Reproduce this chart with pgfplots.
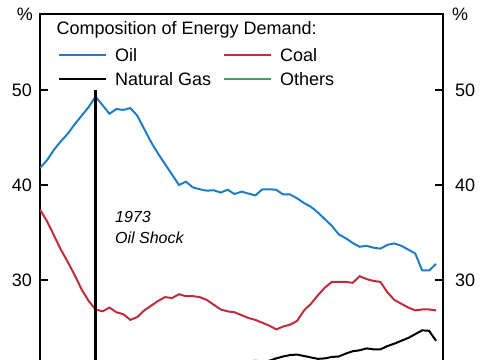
\documentclass[border=0pt]{standalone}
\usepackage{fontspec}
\setmainfont{Liberation Sans}
\usepackage{pgfplots}
\pgfplotsset{compat=1.18}
\usepackage{pgfplotstable}

\definecolor{oilblue}{RGB}{32,125,196}
\definecolor{coalred}{RGB}{190,45,60}
\definecolor{othgreen}{RGB}{70,160,85}

\pgfplotstableread{
year val
1965 41.8
1966 42.6
1967 43.7
1968 44.6
1969 45.4
1970 46.4
1971 47.3
1972 48.2
1973 49.3
1974 48.4
1975 47.5
1976 48.0
1977 47.9
1978 48.1
1979 47.3
1980 45.9
1981 44.5
1982 43.3
1983 42.2
1984 41.1
1985 40.0
1986 40.35
1987 39.75
1988 39.55
1989 39.4
1990 39.45
1991 39.2
1992 39.5
1993 39.05
1994 39.3
1995 39.1
1996 38.9
1997 39.55
1998 39.55
1999 39.5
2000 39.0
2001 39.0
2002 38.6
2003 38.1
2004 37.7
2005 37.1
2006 36.4
2007 35.7
2008 34.8
2009 34.4
2010 33.9
2011 33.5
2012 33.6
2013 33.4
2014 33.3
2015 33.7
2016 33.85
2017 33.6
2018 33.2
2019 32.8
2020 31.0
2021 31.0
2022 31.7
}\oildata

\pgfplotstableread{
year val
1965 37.4
1966 36.2
1967 34.7
1968 33.2
1969 31.9
1970 30.5
1971 29.0
1972 27.8
1973 26.9
1974 26.7
1975 27.1
1976 26.6
1977 26.4
1978 25.8
1979 26.1
1980 26.8
1981 27.3
1982 27.8
1983 28.2
1984 28.1
1985 28.5
1986 28.3
1987 28.3
1988 28.2
1989 27.9
1990 27.4
1991 26.9
1992 26.7
1993 26.6
1994 26.3
1995 26.0
1996 25.8
1997 25.5
1998 25.2
1999 24.8
2000 25.1
2001 25.3
2002 25.7
2003 26.8
2004 27.5
2005 28.4
2006 29.2
2007 29.8
2008 29.8
2009 29.8
2010 29.7
2011 30.4
2012 30.1
2013 29.9
2014 29.8
2015 28.7
2016 27.9
2017 27.5
2018 27.1
2019 26.8
2020 26.9
2021 26.9
2022 26.8
}\coaldata

\pgfplotstableread{
year val
1965 15.6
1966 15.9
1967 16.3
1968 16.6
1969 17.0
1970 17.4
1971 17.7
1972 17.9
1973 18.2
1974 18.4
1975 18.6
1976 18.7
1977 18.8
1978 19.0
1979 19.3
1980 19.5
1981 19.7
1982 19.8
1983 19.9
1984 20.3
1985 20.4
1986 20.4
1987 20.7
1988 20.8
1989 21.0
1990 21.2
1991 21.3
1992 21.2
1993 21.3
1994 21.2
1995 21.4
1996 21.5
1997 21.4
1998 21.5
1999 21.75
2000 21.95
2001 22.1
2002 22.15
2003 22.0
2004 21.85
2005 21.7
2006 21.75
2007 21.9
2008 21.95
2009 22.25
2010 22.5
2011 22.6
2012 22.8
2013 22.7
2014 22.7
2015 23.05
2016 23.3
2017 23.6
2018 23.9
2019 24.3
2020 24.7
2021 24.65
2022 23.6
}\gasdata

\pgfplotstableread{
year val
1965 5.2
1970 5.7
1975 6.8
1980 7.8
1985 11.1
1990 11.9
1995 13.4
2000 13.9
2005 13.8
2010 13.9
2015 14.2
2020 17.4
2022 17.9
}\othdata

\begin{document}
\begin{tikzpicture}
\begin{axis}[
  name=main,
  scale only axis,
  width=403bp, height=347.7bp,
  xmin=1965, xmax=2023,
  ymin=21.4, ymax=58,
  xtick=\empty,
  ytick={30,40,50},
  ytick pos=both,
  yticklabel pos=left,
  tick align=inside,
  major tick length=8bp,
  tick style={line width=1.1bp, black},
  axis line style={line width=1.2bp},
  /pgf/number format/assume math mode=true,
  yticklabel style={inner sep=0pt, xshift=-8bp, font=\fontsize{18bp}{20bp}\selectfont},
  legend columns=2,
  legend cell align=left,
  legend image code/.code={\draw[#1] (0bp,0bp) -- (47bp,0bp);},
  legend style={draw=none, fill=none, inner sep=0pt, outer sep=0pt,
    at={(rel axis cs:0.0447,0.8999)}, anchor=north west,
    row sep=10.5bp,
    font=\fontsize{18bp}{20bp}\selectfont,
    nodes={inner sep=0pt, text height=13bp, text depth=0pt},
    /tikz/every odd column/.append style={column sep=8bp},
    /tikz/every even column/.append style={column sep=12bp}},
]
\addplot[oilblue, line width=2bp] table[x=year,y=val] {\oildata};
\addlegendentry{Oil}
\addplot[coalred, line width=2bp] table[x=year,y=val] {\coaldata};
\addlegendentry{Coal}
\addplot[black, line width=2bp] table[x=year,y=val] {\gasdata};
\addlegendentry{Natural Gas}
\addplot[othgreen, line width=2bp] table[x=year,y=val] {\othdata};
\addlegendentry{Others}
\addplot[black, line width=2.2bp, forget plot] coordinates {(1973,50) (1973,20)};

\node[anchor=base west, font=\fontsize{18bp}{20bp}\selectfont] at (rel axis cs:0.0323,0.9396) {Composition of Energy Demand:};
\node[anchor=base west, xshift=16bp, font=\fontsize{16bp}{18bp}\selectfont\itshape] at (axis cs:1973,36.0) {1973};
\node[anchor=base west, xshift=16bp, font=\fontsize{16bp}{18bp}\selectfont\itshape] at (axis cs:1973,33.86) {Oil Shock};
\end{axis}
\begin{axis}[
  scale only axis,
  width=403bp, height=347.7bp,
  xmin=1965, xmax=2023,
  ymin=21.4, ymax=58,
  axis x line=none,
  axis y line*=right,
  axis line style={-, line width=1.2bp},
  xtick=\empty,
  ytick={30,40,50},
  tick align=inside,
  major tick length=8bp,
  tick style={line width=1.1bp, black},
  /pgf/number format/assume math mode=true,
  yticklabel style={inner sep=0pt, xshift=12bp, font=\fontsize{18bp}{20bp}\selectfont},
]
\end{axis}
\node[anchor=east, inner sep=0pt, font=\fontsize{18bp}{20bp}\selectfont] at ([xshift=-7bp]main.north west) {\%};
\node[anchor=west, inner sep=0pt, font=\fontsize{18bp}{20bp}\selectfont] at ([xshift=9bp]main.north east) {\%};
\pgfresetboundingbox
\path[use as bounding box] ([xshift=-40bp,yshift=-346bp]main.north west) rectangle ([xshift=445bp,yshift=14bp]main.north west);
\end{tikzpicture}
\end{document}
